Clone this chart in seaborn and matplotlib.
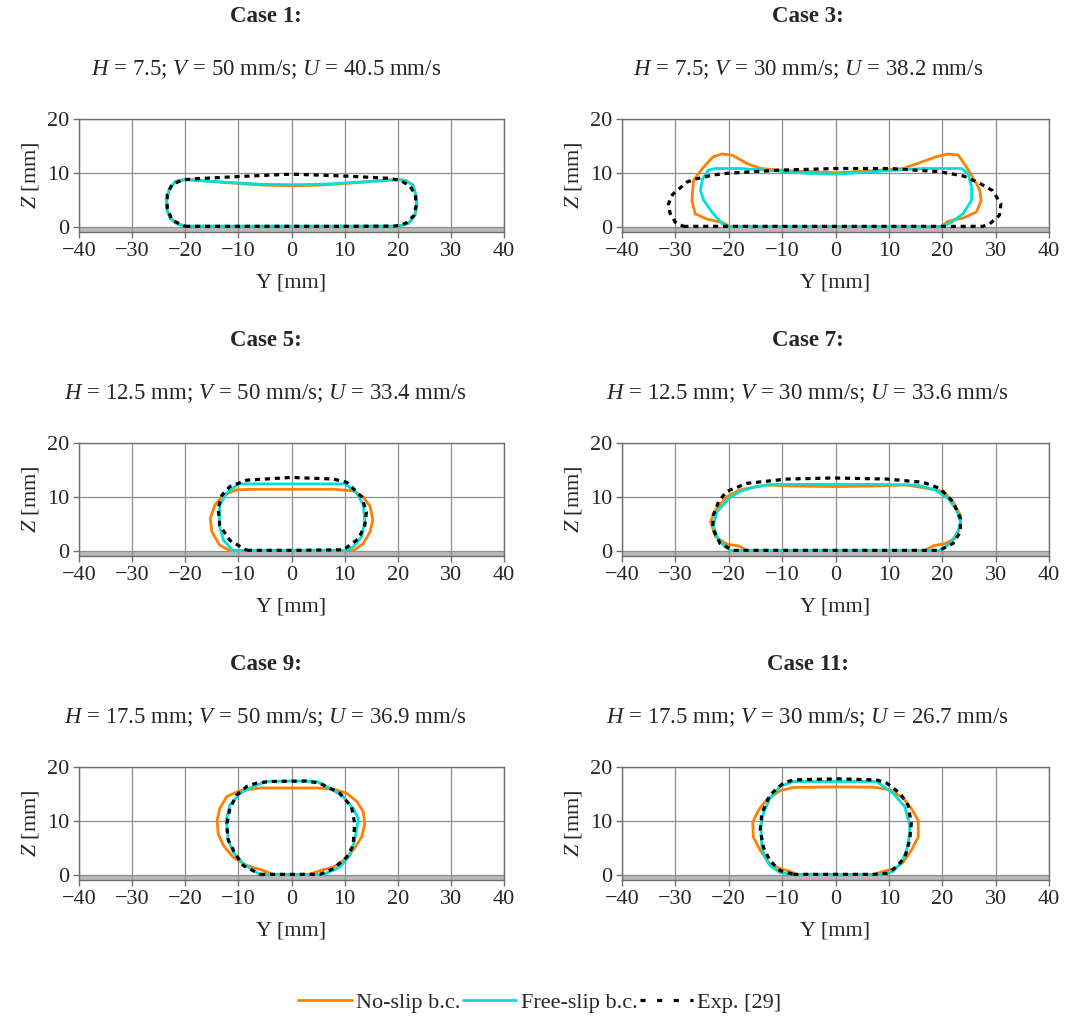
import matplotlib
matplotlib.use("Agg")
import matplotlib.pyplot as plt
from matplotlib.lines import Line2D
import seaborn as sns

# ---------------------------------------------------------------------------
# Cross-section contours (Y, Z in mm) of the deposited bead for six cases.
# Each contour is a closed outline: no-slip simulation, free-slip simulation,
# and the experimental profile.
# ---------------------------------------------------------------------------
case_titles = ["Case 1:", "Case 3:", "Case 5:", "Case 7:", "Case 9:", "Case 11:"]
case_params = [
    "$H$ = 7.5; $V$ = 50 mm/s; $U$ = 40.5 mm/s",
    "$H$ = 7.5; $V$ = 30 mm/s; $U$ = 38.2 mm/s",
    "$H$ = 12.5 mm; $V$ = 50 mm/s; $U$ = 33.4 mm/s",
    "$H$ = 12.5 mm; $V$ = 30 mm/s; $U$ = 33.6 mm/s",
    "$H$ = 17.5 mm; $V$ = 50 mm/s; $U$ = 36.9 mm/s",
    "$H$ = 17.5 mm; $V$ = 30 mm/s; $U$ = 26.7 mm/s",
]
series_labels = ["No-slip b.c.", "Free-slip b.c.", "Exp. [29]"]

# Case 1
case1_noslip_y = [-20, -10, 0, 10, 20, 22, 23.2, 23.6, 23.4, 22.8, 21.5, 20, 15, 10, 5, 0,
                  -5, -10, -15, -20, -21.8, -23, -23.5, -23.4, -22.8, -21.5, -20]
case1_noslip_z = [0.05, 0.0, 0.0, 0.0, 0.05, 0.6, 2.0, 4.0, 6.0, 7.8, 8.6, 8.8, 8.4, 8.0, 7.7, 7.6,
                  7.7, 8.0, 8.4, 8.8, 8.4, 7.0, 5.0, 3.0, 1.5, 0.5, 0.05]
case1_freeslip_y = [-20, -10, 0, 10, 20, 22, 23.2, 23.6, 23.4, 22.8, 21.5, 20, 15, 10, 5, 0,
                    -5, -10, -15, -20, -21.8, -23, -23.5, -23.4, -22.8, -21.5, -20]
case1_freeslip_z = [0.1, 0.1, 0.1, 0.1, 0.1, 0.6, 2.0, 4.0, 6.0, 7.8, 8.5, 8.7, 8.4, 8.1, 7.85, 7.8,
                    7.85, 8.1, 8.4, 8.7, 8.4, 7.0, 5.0, 3.0, 1.5, 0.5, 0.1]
case1_exp_y = [-20, -10, 0, 10, 19.5, 21.5, 23, 23.5, 23.3, 22.2, 20.5, 18, 10, 0, -10, -18,
               -20.5, -22.5, -23.4, -23.4, -22.5, -20]
case1_exp_z = [0.05, 0.05, 0.05, 0.05, 0.1, 0.6, 2.0, 4.0, 6.0, 7.6, 8.6, 9.0, 9.4, 9.75, 9.3, 8.9,
               8.7, 7.8, 6.0, 3.5, 1.2, 0.05]

# Case 3
case3_noslip_y = [-19.7, 0, 19.85, 21.1, 23.9, 26.4, 27.3, 27.0, 26.4, 24.5, 23.0, 21.1, 18.9, 16.4,
                  12.7, 7.1, 0.2, -9.1, -14.1, -16.6, -19.4, -21.3, -22.9, -24.7, -26.6, -26.9,
                  -26.3, -24.1, -21.3, -19.7]
case3_noslip_z = [0, 0, 0, 1.0, 1.6, 2.7, 4.9, 6.8, 8.0, 11.1, 13.3, 13.5, 13.0, 12.1,
                  10.8, 10.4, 10.0, 10.4, 10.8, 11.75, 13.3, 13.5, 13.0, 11.1, 8.6, 4.9,
                  2.4, 1.4, 0.8, 0]
case3_freeslip_y = [-20.7, 0, 19.85, 21.7, 23.9, 25.5, 25.5, 24.8, 23.6, 16.4, 13.3, 7.1, 0.2,
                    -5.4, -11.6, -17.9, -22.5, -23.8, -24.9, -25.3, -24.7, -22.9, -20.7]
case3_freeslip_z = [0, 0, 0, 0.8, 2.4, 4.9, 7.4, 9.9, 10.8, 10.8, 10.6, 10.2, 9.75,
                    9.9, 10.4, 10.8, 10.8, 10.5, 8.9, 6.75, 4.9, 2.4, 0]
case3_exp_y = [-28.5, 0, 27.6, 28.9, 30.7, 31.0, 29.4, 27.1, 24.0, 19.5, 10.2, 0.2, -10.4,
               -20.4, -22.9, -26.0, -27.8, -30.5, -31.3, -31.0, -30.0, -28.5]
case3_exp_z = [0.05, 0.05, 0.05, 0.5, 2.1, 4.25, 6.7, 8.0, 9.4, 10.2, 10.8, 10.8, 10.5,
               9.9, 9.6, 8.9, 8.3, 6.0, 4.25, 2.5, 0.8, 0.05]

# Case 5
case5_noslip_y = [-11.6, 0, 11.6, 13.5, 14.8, 15.3, 14.8, 13.5, 11.6, 7.9, 0, -7.2, -10.3,
                  -12.8, -14.4, -15.3, -15.0, -13.5, -11.6]
case5_noslip_z = [0, 0, 0, 1.3, 3.5, 5.7, 8.2, 10.0, 11.1, 11.4, 11.4, 11.4, 11.3,
                  10.3, 8.5, 6.0, 3.5, 1.0, 0]
case5_freeslip_y = [-11.0, 0, 10.4, 11.6, 13.2, 13.8, 13.5, 12.3, 10.1, 0, -10.0, -12.2,
                    -13.5, -13.6, -12.8, -11.0]
case5_freeslip_z = [0, 0, 0, 0.7, 2.6, 5.4, 8.5, 10.7, 12.4, 12.4, 12.4, 10.7,
                    8.5, 4.7, 1.9, 0]
case5_exp_y = [-8.4, 0, 9.8, 12.6, 13.8, 14.1, 13.2, 10.4, 7.9, 0, -8.4, -11.6, -13.1,
               -13.8, -13.5, -11.6, -8.4]
case5_exp_z = [0.05, 0.05, 0.15, 2.2, 4.7, 7.2, 10.0, 12.7, 13.3, 13.6, 13.1, 11.9, 10.3,
               7.9, 4.7, 1.9, 0.05]

# Case 7
case7_noslip_y = [-16.6, 0, 16.7, 18.3, 20.5, 22.3, 23.4, 23.4, 22.0, 20.2, 17.0, 13.3, 7.1,
                  -0.4, -7.9, -12.9, -17.9, -20.4, -22.5, -23.4, -22.5, -20.4, -18.2, -16.6]
case7_noslip_z = [0, 0, 0, 0.9, 1.3, 2.2, 4.7, 6.6, 9.1, 11.0, 11.6, 12.2, 12.0,
                  11.9, 12.0, 12.2, 11.3, 10.0, 7.5, 5.4, 2.6, 1.2, 0.9, 0]
case7_freeslip_y = [-19.7, 0, 19.5, 21.4, 23.0, 23.4, 22.7, 21.1, 18.6, 15.2, 7.1, -0.4, -11.6,
                    -14.8, -17.9, -20.0, -22.2, -22.9, -22.2, -21.0, -19.7]
case7_freeslip_z = [0, 0, 0, 1.3, 3.5, 5.4, 7.5, 9.7, 11.3, 12.2, 12.3, 12.3, 12.3,
                    11.9, 11.0, 9.7, 7.2, 4.7, 2.6, 1.0, 0]
case7_exp_y = [-19.1, 0, 19.5, 22.0, 23.4, 23.4, 22.0, 19.5, 16.4, 9.6, -0.4, -9.1, -16.6,
               -20.4, -21.9, -22.9, -23.0, -21.6, -19.1]
case7_exp_z = [0.05, 0.05, 0.05, 1.3, 3.5, 6.0, 9.1, 11.6, 12.7, 13.3, 13.5, 13.3, 12.5,
               11.0, 9.1, 6.6, 4.1, 1.3, 0.05]

# Case 9
case9_noslip_y = [-3.4, 3.2, 5.4, 7.9, 9.7, 11.6, 13.2, 13.8, 13.5, 12.3, 10.4, 7.9, 4.7, 0.0,
                  -5.9, -9.7, -12.2, -13.5, -14.0, -13.8, -12.8, -11.0, -8.4, -5.3, -3.4]
case9_noslip_z = [0, 0, 0.75, 1.4, 2.6, 4.5, 7.0, 9.5, 11.7, 13.6, 15.1, 15.9, 16.1, 16.1,
                  16.1, 15.6, 14.5, 12.3, 10.1, 7.6, 5.4, 3.25, 1.7, 0.75, 0]
case9_freeslip_y = [-5.9, 6.0, 9.1, 11.0, 11.9, 12.6, 11.6, 9.7, 7.2, 4.7, 0, -4.7, -7.2,
                    -9.7, -11.6, -12.3, -11.9, -11.0, -9.1, -5.9]
case9_freeslip_z = [0, 0, 1.4, 3.6, 6.4, 10.4, 12.3, 14.5, 16.1, 17.3, 17.4, 17.3, 16.4,
                    15.1, 12.9, 10.1, 6.4, 4.2, 2.0, 0]
case9_exp_y = [-5.9, 5.4, 7.9, 10.4, 11.6, 11.9, 11.3, 9.1, 5.3, 2.8, -4.1, -6.6, -8.4,
               -10.3, -11.6, -12.2, -11.9, -10.6, -9.1, -5.9]
case9_exp_z = [0.05, 0.05, 1.1, 3.25, 5.4, 9.5, 12.6, 15.1, 17.0, 17.4, 17.3, 17.0, 16.4,
               14.8, 12.3, 9.2, 6.4, 3.9, 1.7, 0.05]

# Case 11
case11_noslip_y = [-7.3, 7.1, 8.9, 11.1, 12.7, 14.2, 15.5, 15.5, 14.2, 12.7, 10.2, 7.1, -0.4,
                   -7.9, -10.4, -12.9, -14.4, -15.5, -15.4, -14.1, -12.3, -10.4, -8.5, -7.3]
case11_noslip_z = [0, 0, 0.6, 1.1, 2.3, 4.5, 7.0, 10.1, 12.3, 14.2, 15.75, 16.25, 16.3,
                   16.2, 15.6, 13.9, 12.0, 9.8, 7.0, 4.5, 2.0, 1.1, 0.6, 0]
case11_freeslip_y = [-7.9, 8.9, 10.8, 12.4, 13.3, 13.9, 13.9, 13.0, 10.8, 7.7, 0.8, -7.9,
                     -10.4, -12.3, -13.5, -14.0, -13.8, -13.2, -12.3, -10.4, -7.9]
case11_freeslip_z = [0, 0, 0.6, 2.3, 4.5, 7.6, 9.2, 12.6, 15.1, 17.3, 17.3, 17.3,
                     16.4, 14.2, 11.4, 8.9, 5.1, 3.25, 1.7, 0.4, 0]
case11_exp_y = [-7.9, 7.1, 9.6, 11.4, 13.0, 13.9, 14.2, 13.6, 12.1, 9.6, 7.7, 0.8, -7.9,
                -9.8, -12.3, -13.8, -14.1, -13.5, -12.3, -10.4, -7.9]
case11_exp_z = [0.05, 0.05, 0.25, 1.4, 3.25, 6.4, 9.5, 12.9, 15.1, 17.0, 17.6, 17.8, 17.6,
                17.0, 14.8, 11.4, 8.25, 5.1, 2.6, 0.75, 0.05]

y_ticks = [-40, -30, -20, -10, 0, 10, 20, 30, 40]
z_ticks = [0, 10, 20]

contours = [
    [(case1_noslip_y, case1_noslip_z), (case1_freeslip_y, case1_freeslip_z), (case1_exp_y, case1_exp_z)],
    [(case3_noslip_y, case3_noslip_z), (case3_freeslip_y, case3_freeslip_z), (case3_exp_y, case3_exp_z)],
    [(case5_noslip_y, case5_noslip_z), (case5_freeslip_y, case5_freeslip_z), (case5_exp_y, case5_exp_z)],
    [(case7_noslip_y, case7_noslip_z), (case7_freeslip_y, case7_freeslip_z), (case7_exp_y, case7_exp_z)],
    [(case9_noslip_y, case9_noslip_z), (case9_freeslip_y, case9_freeslip_z), (case9_exp_y, case9_exp_z)],
    [(case11_noslip_y, case11_noslip_z), (case11_freeslip_y, case11_freeslip_z), (case11_exp_y, case11_exp_z)],
]

# ---------------------------------------------------------------------------
# Styling
# ---------------------------------------------------------------------------
sns.set_style("ticks")
plt.rcParams.update({
    "font.family": ["Liberation Serif", "DejaVu Serif"],
    "mathtext.fontset": "custom",
    "mathtext.rm": "Liberation Serif",
    "mathtext.it": "Liberation Serif:italic",
    "font.size": 16,
    "axes.unicode_minus": True,
})

NOSLIP_COLOR = "#ff8000"
FREESLIP_COLOR = "#00e0d6"
EXP_COLOR = "black"
EXP_DASH = (0, (1.6, 1.5))
EXP_DASH_LEGEND = (0, (1.6, 3.6))
GRID_COLOR = "#8e8e8e"
SPINE_COLOR = "#6e6e6e"
SUBSTRATE_COLOR = "#b9b9b9"

W, H = 1067, 1018
fig = plt.figure(figsize=(W / 100, H / 100), dpi=100)

col_px = [(79, 504), (622, 1049)]
row_px = [(119, 232), (443, 556), (767, 880)]
title_cx = [266, 808]

for i in range(6):
    r, c = divmod(i, 2)
    left, right = col_px[c]
    top, bottom = row_px[r]
    ax = fig.add_axes([left / W, 1 - bottom / H, (right - left) / W, (bottom - top) / H])

    # substrate below the bead
    ax.axhspan(-1, 0, color=SUBSTRATE_COLOR, lw=0, zorder=0.5)

    (ns_y, ns_z), (fs_y, fs_z), (ex_y, ex_z) = contours[i]
    sns.lineplot(x=ns_y, y=ns_z, sort=False, estimator=None, ax=ax,
                 color=NOSLIP_COLOR, lw=2.0, zorder=3)
    sns.lineplot(x=fs_y, y=fs_z, sort=False, estimator=None, ax=ax,
                 color=FREESLIP_COLOR, lw=2.0, zorder=4)
    sns.lineplot(x=ex_y, y=ex_z, sort=False, estimator=None, ax=ax,
                 color=EXP_COLOR, lw=2.3, linestyle=EXP_DASH, zorder=5)

    ax.set_xlim(-40, 40)
    ax.set_ylim(-1, 20)
    ax.set_xticks(y_ticks)
    ax.set_yticks(z_ticks)
    ax.grid(True, color=GRID_COLOR, lw=0.9, zorder=1)
    ax.set_axisbelow(True)
    for sp in ax.spines.values():
        sp.set_color(SPINE_COLOR)
        sp.set_linewidth(1.0)
    ax.tick_params(direction="out", length=4, width=1, color=SPINE_COLOR,
                   labelsize=16, pad=3)
    ax.set_xlabel("Y [mm]", fontsize=16, labelpad=9)
    ax.set_ylabel("$Z$ [mm]", fontsize=16, labelpad=4)

    fig.text(title_cx[c] / W, 1 - (top - 102) / H, case_titles[i],
             ha="center", va="center", fontsize=16.5, fontweight="bold")
    fig.text(title_cx[c] / W, 1 - (top - 49) / H, case_params[i],
             ha="center", va="center", fontsize=16.5)

handles = [
    Line2D([], [], color=NOSLIP_COLOR, lw=2.0),
    Line2D([], [], color=FREESLIP_COLOR, lw=2.0),
    Line2D([], [], color=EXP_COLOR, lw=2.3, linestyle=EXP_DASH_LEGEND),
]
fig.legend(handles, series_labels, loc="center", bbox_to_anchor=(540 / W, 1 - 1003 / H),
           ncol=3, frameon=False, fontsize=16, handlelength=2.4,
           handletextpad=0.2, columnspacing=0.1)

fig.savefig("out.png", dpi=100)
